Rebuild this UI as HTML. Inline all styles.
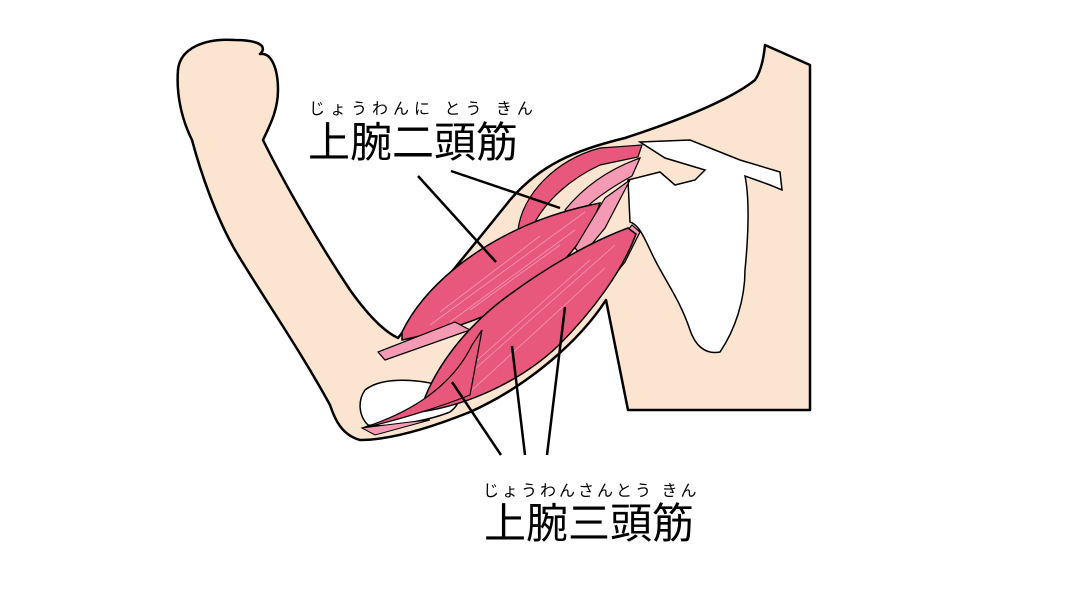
<!DOCTYPE html>
<html><head><meta charset="utf-8"><style>
html,body{margin:0;padding:0;background:#fff;width:1080px;height:591px;overflow:hidden}
svg{display:block}
text{font-family:"Liberation Sans","Noto Sans CJK JP",sans-serif;fill:#000}
</style></head><body>
<svg width="1080" height="591" viewBox="0 0 1080 591" xmlns="http://www.w3.org/2000/svg">
<!-- skin -->
<path d="M178,70 C180,48 205,38 235,40 C250,40 258,42 262,46 C264,50 262,52 260,54 C272,52 278,70 278,90 C278,110 270,125 263,140 C285,185 320,245 350,290 C370,318 385,332 398,338 C420,310 470,250 510,200 C540,165 575,150 625,138 C680,120 730,100 755,80 C762,70 764,55 765,45 L810,65 L810,410 L628,410 L606,300 C580,340 530,385 470,412 C430,428 390,440 360,440 C342,435 335,420 330,405 C300,350 265,300 235,250 C215,215 200,170 192,140 C182,120 176,95 178,70 Z" fill="#fce5d0" stroke="#000" stroke-width="2.5" stroke-linejoin="round"/>
<!-- scapula/clavicle bone -->
<path d="M640,142 L690,140 L740,160 L780,172 L782,190 L770,185 L745,176 C750,200 748,240 745,270 C745,300 735,330 720,352 C705,355 695,345 690,330 C680,300 665,280 655,260 C645,240 640,225 630,222 L628,180 L660,172 L675,185 L695,180 L705,170 L665,158 Z" fill="#fff" stroke="#000" stroke-width="1.5"/>
<!-- elbow bone -->
<path d="M365,390 C380,378 410,378 440,385 C460,390 465,400 450,412 C430,420 390,428 368,425 C358,415 358,400 365,390 Z" fill="#fff" stroke="#000" stroke-width="1.5"/>
<!-- biceps long head -->
<path d="M518,230 C522,195 555,160 600,148 L642,145 L638,157 L600,165 C572,178 545,200 532,228 Z" fill="#e8587c" stroke="#000" stroke-width="1.2"/>
<path d="M565,210 C585,185 612,168 640,158 L632,176 C610,188 590,202 575,218 Z" fill="#f49ab4" stroke="#000" stroke-width="1.2"/>
<!-- biceps belly -->
<path d="M402,332 C425,285 475,248 525,226 C550,215 575,208 600,203 C590,235 560,270 520,298 C480,322 440,332 402,340 Z" fill="#e8587c" stroke="#000" stroke-width="1.5"/>
<g stroke="#f7a9bf" stroke-width="0.8" opacity="0.8"><line x1="430" y1="325" x2="585" y2="212"/><line x1="450" y1="322" x2="575" y2="230"/><line x1="470" y1="310" x2="560" y2="245"/><line x1="440" y1="312" x2="540" y2="236"/></g>
<path d="M378,352 L455,322 L470,330 L385,360 Z" fill="#f49ab4" stroke="#000" stroke-width="1.2"/>
<path d="M575,248 L605,198 L630,180 L605,228 L582,256 Z" fill="#f49ab4" stroke="#000" stroke-width="1.2"/>
<path d="M595,300 L615,245 L632,225 L640,232 L625,262 Z" fill="#f49ab4" stroke="#000" stroke-width="1.2"/>
<!-- triceps -->
<path d="M420,412 C432,370 465,328 505,298 C545,268 590,242 628,228 L636,234 C622,272 592,312 558,346 C522,380 470,405 420,412 Z" fill="#e8587c" stroke="#000" stroke-width="1.5"/>
<g stroke="#f7a9bf" stroke-width="0.8" opacity="0.8"><line x1="440" y1="400" x2="615" y2="245"/><line x1="470" y1="392" x2="605" y2="268"/><line x1="455" y1="380" x2="590" y2="260"/></g>
<path d="M362,428 C400,420 445,405 470,395 L482,330 L472,345 C455,380 420,410 362,428 Z" fill="#e8587c" stroke="#000" stroke-width="1.2"/>
<path d="M362,428 L375,435 L430,420 L410,422 Z" fill="#f49ab4" stroke="#000" stroke-width="1"/>
<!-- label lines -->
<g stroke="#000" stroke-width="2.5">
<line x1="418" y1="176" x2="496" y2="262"/>
<line x1="451" y1="171" x2="560" y2="208"/>
<line x1="452" y1="382" x2="501" y2="455"/>
<line x1="512" y1="346" x2="525" y2="455"/>
<line x1="565" y1="307" x2="547" y2="455"/>
</g>
<text x="309" y="114" font-size="16" letter-spacing="5">じょうわんに とう きん</text>
<text x="308" y="157" font-size="42">上腕二頭筋</text>
<text x="483" y="496" font-size="16" letter-spacing="3">じょうわんさんとう きん</text>
<text x="484" y="538" font-size="42">上腕三頭筋</text>
</svg>
</body></html>
